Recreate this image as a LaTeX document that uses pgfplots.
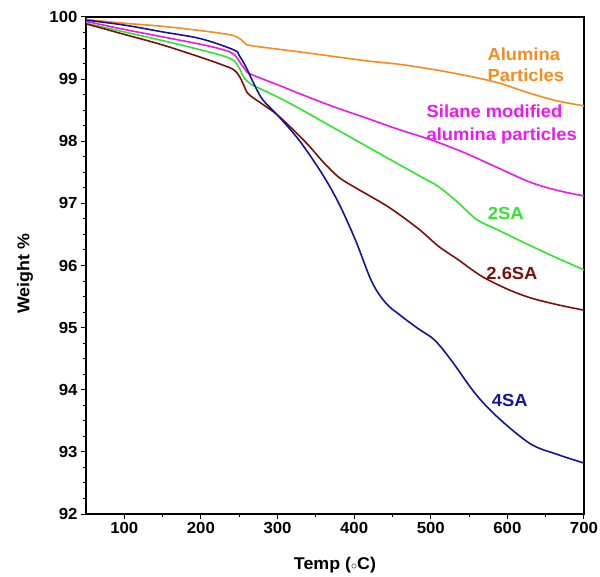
\documentclass[border=0pt]{standalone}
\usepackage{fontspec}
\setmainfont{Liberation Sans}[FakeStretch=1.05]
\usepackage{pgfplots}
\pgfplotsset{compat=1.18}

\definecolor{cOrange}{RGB}{245,140,30}
\definecolor{cMagenta}{RGB}{235,25,235}
\definecolor{cGreen}{RGB}{45,230,45}
\definecolor{cBrown}{RGB}{125,15,10}
\definecolor{cBlue}{RGB}{20,20,150}

\begin{document}
\begin{tikzpicture}
\useasboundingbox (-86pt,-62pt) rectangle (514pt,514pt);
\begin{axis}[
    at={(0pt,0pt)}, anchor=south west,
    scale only axis,
    width=498pt, height=497pt,
    xmin=50, xmax=700,
    ymin=92, ymax=100,
    xtick={100,200,...,700},
    ytick={92,93,...,100},
    minor x tick num=1,
    minor y tick num=3,
    xtick pos=left, ytick pos=left,
    tick align=outside,
    major tick length=5pt,
    minor tick length=3pt,
    tick style={black, line width=1pt},
    axis line style={line width=1.3pt},
    /pgf/number format/assume math mode=true,
    ticklabel style={font=\fontsize{16}{16}\selectfont\bfseries},
    label style={font=\fontsize{17}{17}\selectfont\bfseries},
    xlabel={Temp (${\scriptstyle\circ}$C)},
    ylabel={Weight \%},
    xlabel style={at={(axis description cs:0.5,-0.1026)}, anchor=center},
    ylabel style={at={(axis description cs:-0.1225,0.483)}, anchor=center},
    every axis plot/.append style={line width=1.6pt, smooth, tension=0.55},
]

% Alumina particles
\addplot[cOrange] coordinates {
(50,99.96)(100,99.90)(150,99.85)(200,99.78)(230,99.73)(243,99.70)(252,99.64)
(258,99.57)(265,99.54)(302,99.48)(328,99.44)(370,99.37)(419,99.29)(458,99.24)
(501,99.16)(545,99.06)(588,98.94)(630,98.77)(665,98.65)(700,98.57)
};

% silane modified alumina particles
\addplot[cMagenta] coordinates {
(50,99.93)(100,99.80)(150,99.68)(200,99.56)(230,99.47)(243,99.40)(252,99.25)
(258,99.15)(265,99.08)(302,98.90)(328,98.77)(370,98.57)(419,98.36)(458,98.19)
(501,98.02)(545,97.81)(588,97.57)(630,97.34)(665,97.21)(700,97.12)
};

% 2SA
\addplot[cGreen] coordinates {
(50,99.90)(100,99.76)(150,99.62)(200,99.47)(230,99.37)(243,99.30)(250,99.18)
(256,99.03)(265,98.92)(282,98.82)(302,98.70)(328,98.53)(380,98.17)(419,97.90)
(458,97.63)(490,97.41)(510,97.27)(535,97.02)(560,96.74)(588,96.57)(630,96.32)
(665,96.12)(700,95.93)
};

% 2.6SA
\addplot[cBrown] coordinates {
(50,99.89)(100,99.72)(150,99.55)(200,99.35)(230,99.22)(243,99.15)(250,99.05)
(256,98.90)(262,98.76)(280,98.60)(302,98.40)(337,97.98)(360,97.66)(380,97.42)
(402,97.25)(445,96.94)(484,96.59)(510,96.31)(535,96.10)(566,95.83)(600,95.62)
(630,95.48)(665,95.37)(700,95.28)
};

% 4SA
\addplot[cBlue] coordinates {
(50,99.95)(100,99.87)(150,99.76)(200,99.65)(243,99.47)(250,99.38)(259,99.19)
(267,98.98)(280,98.68)(300,98.42)(328,98.02)(358,97.48)(380,97.00)(402,96.40)
(423,95.74)(441,95.40)(460,95.20)(484,94.98)(505,94.80)(527,94.47)(558,93.94)
(588,93.55)(630,93.13)(665,92.96)(700,92.82)
};

\node[cOrange, anchor=west, align=left, font=\fontsize{17.5}{21}\selectfont\bfseries]
  at (axis cs:569.5,99.23) {Alumina\\Particles};
\node[cMagenta, anchor=west, align=left, font=\fontsize{17.5}{23}\selectfont\bfseries]
  at (axis cs:490,98.27) {Silane modified\\alumina particles};
\node[cGreen, font=\fontsize{17.5}{17.5}\selectfont\bfseries] at (axis cs:598,96.84) {2SA};
\node[cBrown, font=\fontsize{17.5}{17.5}\selectfont\bfseries] at (axis cs:606,95.87) {2.6SA};
\node[cBlue, font=\fontsize{17.5}{17.5}\selectfont\bfseries] at (axis cs:603,93.82) {4SA};
\end{axis}
\end{tikzpicture}
\end{document}
